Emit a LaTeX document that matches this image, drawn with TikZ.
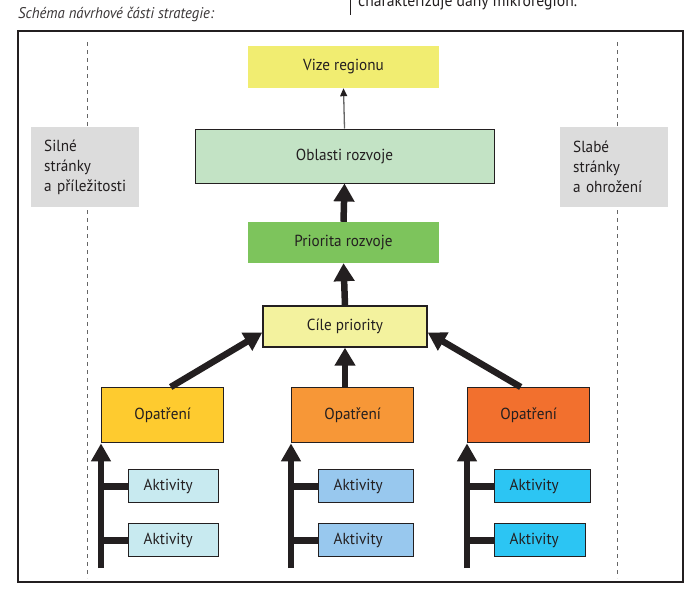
\documentclass[tikz,border=0pt]{standalone}
\usepackage{fontspec}
\setmainfont{PT Sans}[FakeStretch=0.95]
\usetikzlibrary{arrows.meta}
\definecolor{vizefill}{HTML}{F1ED71}
\definecolor{oblastfill}{HTML}{C3E3C5}
\definecolor{prioritafill}{HTML}{7DC45C}
\definecolor{cilefill}{HTML}{F3F29E}
\definecolor{opyellow}{HTML}{FECB2F}
\definecolor{oporange}{HTML}{F79737}
\definecolor{opred}{HTML}{F2702E}
\definecolor{aktpale}{HTML}{C8EAF0}
\definecolor{aktmid}{HTML}{98C8EE}
\definecolor{aktcyan}{HTML}{2CC5F3}
\definecolor{sidegray}{HTML}{DCDCDC}
\definecolor{ink}{HTML}{231F20}
\tikzset{
	boxtext/.style = {font=\fontsize{16}{19}\selectfont, text=ink, inner sep=0pt},
	plainbox/.style = {boxtext, rectangle},
	box/.style = {boxtext, rectangle, draw=ink, line width=1pt},
	opbox/.style = {boxtext, rectangle, draw=ink, line width=1.4pt, minimum width=122pt, minimum height=55pt, anchor=north west},
	aktbox/.style = {boxtext, rectangle, draw=ink, line width=1.4pt, minimum height=33pt, inner xsep=15pt, align=left, anchor=north west},
	sidebox/.style = {boxtext, fill=sidegray, align=left, text width=82pt, inner xsep=13pt, minimum height=80pt, anchor=north west, font=\fontsize{16}{20}\selectfont},
	stem/.style = {draw=ink, line width=6pt, -{Triangle[length=18pt,width=19pt]}},
	branch/.style = {draw=ink, line width=7pt},
	bigarrow/.style = {draw=ink, line width=6.5pt, -{Triangle[length=18pt,width=20pt]}},
	thinarrow/.style = {draw=gray!80!black, line width=1.3pt, -{Triangle[length=8pt,width=7pt,color=ink]}},
	guide/.style = {draw=gray!80!black, line width=0.8pt, dash pattern=on 4pt off 4pt},
	frame/.style = {draw=ink, line width=1.2pt}
}
\newcommand{\opcolumn}[5]{\node[opbox, fill=#2] (op#1) at (0,387) {Opatření};
			\node[aktbox, fill=#3, text width=#4] (akt#1a) at (27,469) {Aktivity};
			\node[aktbox, fill=#3, text width=#5] (akt#1b) at (27,523) {Aktivity};
			\coordinate (base#1) at (0,568);
			\draw[branch] (base#1 |- akt#1a.west) -- (akt#1a.west);
			\draw[branch] (base#1 |- akt#1b.west) -- (akt#1b.west);
			\draw[stem] (base#1) -- (op#1.south west);}

\begin{document}
\begin{tikzpicture}[x=1pt,y=-1pt]

					\useasboundingbox (0,0) rectangle (700,595);

					\node[anchor=base west, inner sep=0pt, font=\fontsize{16.5}{18}\selectfont, text=ink] (mikro) at (358,6) {charakterizuje daný mikroregion.};
					\draw[draw=ink, line width=1pt] (350,0) -- (350,15);
					\node[anchor=base west, inner sep=0pt, font=\itshape\fontsize{15.5}{18}\selectfont, text=ink!90] (schema) at (18,18) {Schéma návrhové části strategie:};

					\draw[frame] (18,31) rectangle (683,582);
					\draw[guide] (87,42) -- (87,578);
					\draw[guide] (617,42) -- (617,578);

					\node[sidebox] (silne) at (31,127) {Silné\\stránky\\a příležitosti};
					\node[sidebox] (slabe) at (560,127) {Slabé\\stránky\\a ohrožení};

					\node[plainbox, fill=vizefill, minimum width=191pt, minimum height=42pt] (vize) at (343.5,67) {Vize regionu};
					\node[box, fill=oblastfill, minimum width=299pt, minimum height=54pt] (oblasti) at (344.5,156) {Oblasti rozvoje};
					\node[plainbox, fill=prioritafill, minimum width=191pt, minimum height=41pt] (priorita) at (343.5,242.5) {Priorita rozvoje};
					\node[box, line width=1.4pt, fill=cilefill, minimum width=164pt, minimum height=41pt] (cile) at (345,326.5) {Cíle priority};

					\begin{scope}[xshift=101pt]
						\opcolumn{L}{opyellow}{aktpale}{60pt}{60pt}
					\end{scope}

					\begin{scope}[xshift=291pt]
						\opcolumn{M}{oporange}{aktmid}{65pt}{65pt}
					\end{scope}

					\begin{scope}[xshift=467pt]
						\opcolumn{R}{opred}{aktcyan}{66pt}{61pt}
					\end{scope}

					\draw[bigarrow] ([xshift=8pt]opL.north) -- ([yshift=-6pt]cile.west);
					\draw[bigarrow] (opM.north -| cile.south) -- (cile.south);
					\draw[bigarrow] ([xshift=-8pt]opR.north) -- ([yshift=-6pt]cile.east);
					\draw[bigarrow] (cile.north) -- (priorita.south);
					\draw[bigarrow] (priorita.north) -- (oblasti.south);
					\draw[thinarrow] (oblasti.north) -- (vize.south);

				\end{tikzpicture}
\end{document}
